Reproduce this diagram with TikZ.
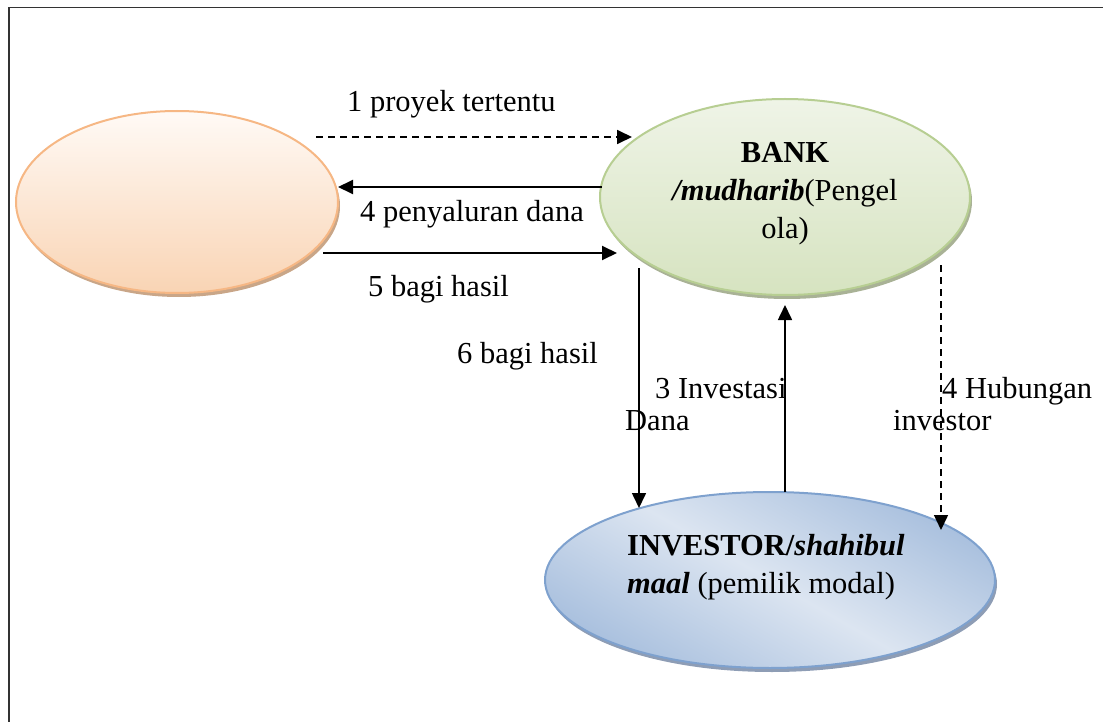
\documentclass[tikz,border=0pt]{standalone}
\usepackage{fontspec}
\setmainfont{Liberation Serif}
\usetikzlibrary{arrows.meta,shapes.geometric,shadows}
\definecolor{orTop}{HTML}{FFFAF6}
\definecolor{orBot}{HTML}{F9D4B4}
\definecolor{orLine}{HTML}{F6B784}
\definecolor{orShadow}{HTML}{C9A688}
\definecolor{grTop}{HTML}{EFF4E7}
\definecolor{grBot}{HTML}{D6E3C0}
\definecolor{grLine}{HTML}{B7CE92}
\definecolor{grShadow}{HTML}{A9B296}
\definecolor{blDark}{HTML}{A9C0DE}
\definecolor{blLight}{HTML}{DCE5F1}
\definecolor{blLine}{HTML}{7EA1CE}
\definecolor{blShadow}{HTML}{8E9DB5}
\definecolor{frameC}{HTML}{333333}
\tikzset{
  txt/.style={font=\fontsize{30.5pt}{38pt}\selectfont, inner sep=0pt},
  oval/.style={ellipse, inner sep=0pt, line width=2pt},
  solidarrow/.style={line width=1.9pt, -{Triangle[length=15pt,width=14pt]}},
  vertarrow/.style={line width=1.6pt, -{Triangle[length=15pt,width=14pt]}},
  dasharrow/.style={line width=1.8pt, dash pattern=on 7pt off 5pt, -{Triangle[length=15pt,width=14pt]}},
}
\begin{document}
\begin{tikzpicture}[x=1pt,y=-1pt]
\useasboundingbox (0,0) rectangle (1103,722);
% frame
\draw[frameC, line width=1.6pt] (9,722) -- (9,7.5) -- (1103,7.5);

% ellipses
\node[oval, minimum width=322pt, minimum height=182pt, draw=orLine, top color=orTop, bottom color=orBot,
  drop shadow={shadow xshift=2pt, shadow yshift=-4pt, fill=orShadow, opacity=1}] (orange) at (177,202) {};
\node[oval, minimum width=370pt, minimum height=196pt, draw=grLine, top color=grTop, bottom color=grBot,
  drop shadow={shadow xshift=2pt, shadow yshift=-4pt, fill=grShadow, opacity=1}] (bank) at (785,197) {};
\node[oval, minimum width=450pt, minimum height=176pt, draw=blLine,
  top color=blDark, bottom color=blDark, middle color=blLight, shading angle=-30,
  drop shadow={shadow xshift=2pt, shadow yshift=-4pt, fill=blShadow, opacity=1}] (inv) at (770,580) {};

% node texts
\node[txt, anchor=north, align=center] (banktxt) at (785,142)
  {\textbf{BANK}\\\textbf{\textit{/mudharib}}(Pengel\\ola)};
\node[txt, anchor=north west, align=left] (invtxt) at (627,534)
  {\textbf{INVESTOR/\textit{shahibul}}\\\textbf{\textit{maal}} (pemilik modal)};

% connectors
\draw[dasharrow] ([shift={(139,-65)}]orange.center) -- ([shift={(-153,-60)}]bank.center);
\draw[solidarrow] ([shift={(-183,-10)}]bank.center) -- ([shift={(161,-15)}]orange.center);
\draw[solidarrow] ([shift={(146,51)}]orange.center) -- ([shift={(-168,56)}]bank.center);
\draw[vertarrow] ([shift={(-146,71)}]bank.center) -- ([shift={(-131,-72)}]inv.center);
\draw[vertarrow] ([shift={(15,-88)}]inv.center) -- ([shift={(0,108)}]bank.center);
\draw[line width=1.5pt, dash pattern=on 7pt off 5pt, -{Triangle[length=15pt,width=14pt]}]
  ([shift={(156,68)}]bank.center) -- ([shift={(171,-50)}]inv.center);

% labels
\node[txt, anchor=base west] (l1) at (347,112) {1 proyek tertentu};
\node[txt, anchor=base west] (l4) at (360,222) {4 penyaluran dana};
\node[txt, anchor=base west] (l5) at (368,296) {5 bagi hasil};
\node[txt, anchor=base west] (l6) at (457,363) {6 bagi hasil};
\node[txt, anchor=base west] (l3a) at (655,398) {3 Investasi};
\node[txt, anchor=base west] (l3b) at (625,430) {Dana};
\node[txt, anchor=base west] (lha) at (942,398) {4 Hubungan};
\node[txt, anchor=base west] (lhb) at (893,430) {investor};
\end{tikzpicture}
\end{document}
